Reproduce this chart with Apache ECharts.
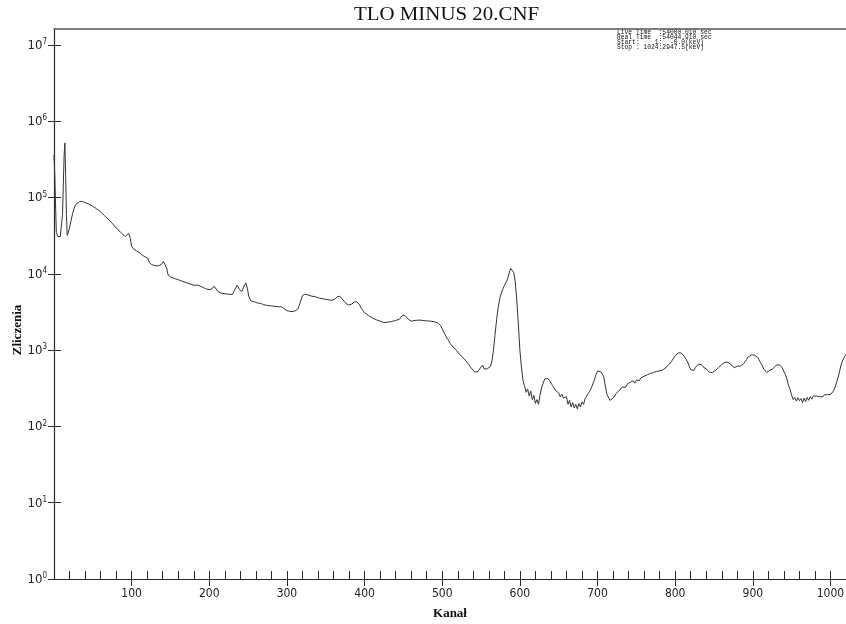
<!DOCTYPE html>
<html>
<head>
<meta charset="utf-8">
<script src="https://cdn.jsdelivr.net/npm/echarts@6.0.0/dist/echarts.min.js"></script>
<style>
html,body{margin:0;padding:0;background:#fff;}
#chart{width:846px;height:624px;}
</style>
</head>
<body>
<div id="chart"></div>
<script>
// Channel numbers (Kanał) and counts (Zliczenia)
const channels = [
0,1,2,3,5,8,10,11,12,13,14,15,16,17,18,20,22,24,26,28,30,33,36,40,45,50,55,60,65,70,75,80,85,89,92,94,96,98,
100,103,106,110,114,117,119,121,123,126,130,134,138,141,143,145,147,150,155,160,165,170,175,180,185,190,195,
200,203,206,208,211,215,220,225,230,233,236,239,242,245,247,249,251,254,258,262,266,270,275,280,285,290,293,296,
300,305,310,314,317,320,323,327,332,337,342,347,352,357,361,365,368,371,375,379,383,387,390,393,396,
400,405,410,415,420,425,430,435,440,445,448,451,454,457,460,465,470,475,480,485,490,494,
496,498,500,502,504,506,508,510,512,514,516,518,520,522,524,526,528,530,532,534,536,538,540,542,544,546,548,
550,552,554,556,558,560,562,564,566,568,570,572,574,576,578,580,582,584,586,588,589,590,592,594,596,598,
600,602,604,606,608,610,612,614,616,618,620,622,624,626,628,630,632,634,636,638,640,642,644,646,648,
650,652,654,656,658,660,662,664,666,668,670,672,674,676,678,680,682,684,686,688,690,692,694,696,698,
700,702,704,706,708,710,712,714,716,718,720,722,724,726,728,730,732,734,736,738,740,742,744,746,748,
750,752,754,756,758,760,762,764,766,768,770,772,774,776,778,780,782,784,786,788,790,792,794,796,798,
800,802,804,806,808,810,812,814,816,818,820,822,824,826,828,830,832,834,836,838,840,842,844,846,848,
850,852,854,856,858,860,862,864,866,868,870,872,874,876,878,880,882,884,886,888,890,892,894,896,898,
900,902,904,906,908,910,912,914,916,918,920,922,924,926,928,930,932,934,936,938,940,942,944,946,948,
950,952,954,956,958,960,962,964,966,968,970,972,974,976,978,980,982,984,986,988,990,992,994,996,998,
1000,1002,1004,1006,1008,1010,1012,1014,1016,1018,1020
];
const counts = [
360000,200000,80000,35000,31000,30500,32000,60000,150000,350000,520000,200000,60000,32000,34000,40000,50000,62000,73000,81000,86000,89000,89000,86000,82000,77000,71000,65000,58000,52000,46000,40000,36000,32500,31000,32000,34000,30000,
23000,21000,20000,19000,17500,16800,17800,16000,14000,13200,12800,12700,13200,14500,15000,12000,9600,9100,8700,8400,8000,7700,7400,7100,7100,6800,6400,
6200,6300,6900,6700,5900,5600,5500,5400,5400,6300,7100,6200,5900,7000,7600,6500,5000,4400,4300,4150,4100,3950,3850,3800,3750,3700,3700,3500,
3300,3200,3250,3450,4200,5200,5400,5300,5100,5000,4800,4700,4600,4500,4600,5000,5100,4700,4200,3900,4000,4300,4300,4000,3500,
3100,2850,2650,2500,2400,2300,2330,2380,2450,2550,2800,2900,2700,2500,2400,2450,2480,2450,2420,2400,2350,2280,
2250,2100,1900,1720,1580,1440,1350,1230,1180,1100,1060,1000,980,890,890,810,810,730,730,650,650,570,550,515,545,525,565,
590,635,565,565,570,560,610,720,1000,1600,2500,3600,4700,5600,6300,7000,7700,8500,10000,11800,12300,12000,10500,8000,4500,2200,
1000,600,400,340,280,310,250,290,225,255,200,225,195,260,320,370,420,445,425,400,380,345,335,295,285,
275,245,265,235,225,245,195,220,180,205,175,195,170,200,180,210,195,230,240,270,290,320,360,410,480,
530,555,525,505,450,340,265,250,220,210,235,235,270,280,295,305,330,340,325,355,335,380,360,395,370,
405,415,400,435,415,455,435,475,455,495,475,510,490,525,505,535,520,550,560,590,620,650,690,730,790,
850,890,920,935,915,890,820,760,700,620,555,535,540,595,615,655,665,645,605,595,565,545,515,510,510,
535,540,565,595,625,645,685,695,715,695,685,645,625,590,615,615,640,620,655,660,705,755,815,840,865,
870,860,850,810,765,685,635,565,535,510,540,545,550,570,605,635,670,645,630,585,565,475,415,345,305,
255,225,240,215,238,218,232,205,235,212,240,220,245,228,250,245,250,262,246,260,244,260,246,260,245,
262,262,292,328,382,448,542,658,742,818,880
];
const xMajorTicks = [100,200,300,400,500,600,700,800,900,1000];
const xMinorTicks = [];
for (let c = 20; c <= 1020; c += 20) xMinorTicks.push(c);
const yTicks = [1,10,100,1000,10000,100000,1000000,10000000];
const titleText = 'TLO MINUS 20.CNF';
const infoLines = [
'Live Time  :54000.010 sec',
'Real Time  :54044.910 sec',
'Start:    1:  -0.0(keV)',
'Stop : 1024:2947.5(keV)'
];

const seriesData = channels.map((c, i) => [c, counts[i]]);
const yMax = Math.pow(10, 7.21);
const axisColor = '#2a2a2a';
const narrow = "'Liberation Sans Narrow','DejaVu Sans Condensed','Liberation Sans',sans-serif";
const serif = "'Liberation Serif','DejaVu Serif',serif";

const chart = echarts.init(document.getElementById('chart'), null, {renderer: 'canvas'});
chart.setOption({
  backgroundColor: '#fff',
  animation: false,
  grid: {left: 54, right: 0, top: 29, bottom: 45, containLabel: false, outerBoundsMode: 'none'},
  xAxis: [
    {
      type: 'value', min: 0, max: 1020, position: 'bottom',
      axisLine: {show: true, lineStyle: {color: axisColor, width: 1.2}},
      axisTick: {show: true, inside: true, length: 8, customValues: xMinorTicks, lineStyle: {color: axisColor}},
      axisLabel: {show: false},
      splitLine: {show: false},
      name: 'Kanał', nameLocation: 'middle', nameGap: 28,
      nameTextStyle: {fontFamily: serif, fontSize: 13, fontWeight: 'bold', color: '#111'}
    },
    {
      type: 'value', min: 0, max: 1020, position: 'bottom',
      axisLine: {show: false},
      axisTick: {show: true, inside: false, length: 7, customValues: xMajorTicks, lineStyle: {color: axisColor}},
      axisLabel: {show: true, customValues: xMajorTicks, margin: 9, fontFamily: narrow, fontSize: 12, color: '#222',
        formatter: function (v) { return String(v); }},
      splitLine: {show: false}
    },
    {
      type: 'value', min: 0, max: 1020, position: 'top',
      axisLine: {show: true, lineStyle: {color: '#555', width: 1.5}},
      axisTick: {show: false}, axisLabel: {show: false}, splitLine: {show: false}
    }
  ],
  yAxis: [
    {
      type: 'log', logBase: 10, min: 1, max: yMax, position: 'left',
      axisLine: {show: true, lineStyle: {color: axisColor, width: 1.2}},
      axisTick: {show: true, inside: false, length: 6, customValues: yTicks, lineStyle: {color: axisColor}},
      axisLabel: {
        show: true, customValues: yTicks, margin: 7,
        formatter: function (v) {
          const e = Math.round(Math.log10(v));
          return '{a|10}{b|' + e + '}';
        },
        rich: {
          a: {fontFamily: narrow, fontSize: 13, color: '#222', verticalAlign: 'bottom'},
          b: {fontFamily: narrow, fontSize: 8, color: '#222', verticalAlign: 'top', padding: [0, 0, 6, 0]}
        }
      },
      splitLine: {show: false}
    },
    {
      type: 'log', logBase: 10, min: 1, max: yMax, position: 'left',
      axisLine: {show: false},
      axisTick: {show: true, inside: true, length: 7, customValues: yTicks, lineStyle: {color: axisColor}},
      axisLabel: {show: false}, splitLine: {show: false}
    }
  ],
  graphic: [
    {
      type: 'text', x: 446.5, y: 15, scaleX: 1.1,
      style: {text: titleText, fill: '#111', font: '19px ' + serif, textAlign: 'center', textVerticalAlign: 'middle'}
    },
    {
      type: 'text', x: 18, y: 330, rotation: Math.PI / 2,
      style: {text: 'Zliczenia', fill: '#111', font: 'bold 13px ' + serif, textAlign: 'center', textVerticalAlign: 'middle'}
    },
    {
      type: 'text', x: 617, y: 30, scaleX: 0.9,
      style: {text: infoLines.join('\n'), fill: '#111', font: "7px 'Liberation Mono','DejaVu Sans Mono',monospace", lineHeight: 4.9}
    }
  ],
  series: [{
    type: 'line', xAxisIndex: 0, yAxisIndex: 0,
    data: seriesData, showSymbol: false, symbol: 'none',
    lineStyle: {color: '#333', width: 1},
    clip: true
  }]
});
</script>
</body>
</html>
